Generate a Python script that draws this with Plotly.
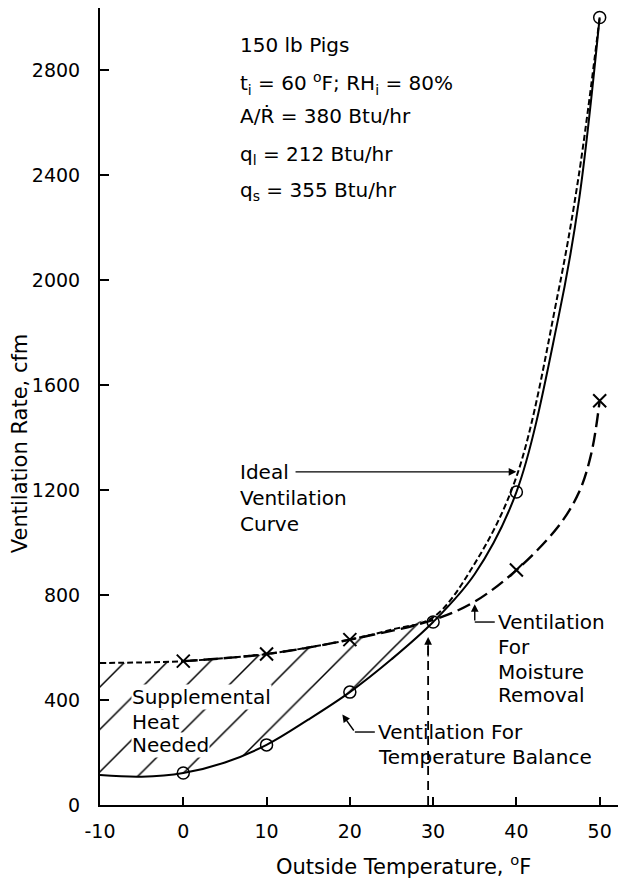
import plotly.graph_objects as go

# ---- data ----
temp_x = [-10, -5, 0, 5, 10, 15, 20, 25, 30, 35, 40, 45, 47.5, 50]
temp_y = [114, 108, 122, 162, 229, 325, 430, 555, 697, 880, 1192, 1850, 2300, 3000]

ideal_x = [-10, -5, 0, 5, 10, 15, 20, 25, 30, 35, 40, 45, 47.5, 50]
ideal_y = [541, 543, 548, 560, 575, 600, 630, 668, 715, 920, 1250, 1950, 2400, 3000]

moist_x = [0, 10, 20, 30, 35, 40, 45, 47.5, 49, 50]
moist_y = [548, 575, 630, 705, 775, 895, 1060, 1190, 1340, 1540]

circle_temps = [0, 10, 20, 30, 40, 50]
cross_temps = [0, 10, 20, 40, 50]

x_ticks = [-10, 0, 10, 20, 30, 40, 50]
y_ticks = [0, 400, 800, 1200, 1600, 2000, 2400, 2800]

balance_temp = 29.4  # temperature where the two requirements meet (dashed marker)

FONT = "DejaVu Sans"
INK = "black"

fig = go.Figure()

# hatched region: between temperature-balance curve and ideal curve up to 30 F
hx_lo = [x for x in temp_x if x <= 30]
hy_lo = [y for x, y in zip(temp_x, temp_y) if x <= 30]
hx_hi = [x for x in ideal_x if x <= 30]
hy_hi = [y for x, y in zip(ideal_x, ideal_y) if x <= 30]
fig.add_trace(go.Scatter(x=hx_lo, y=hy_lo, mode="lines", line=dict(width=0, shape="spline"),
                         showlegend=False, hoverinfo="skip"))
fig.add_trace(go.Scatter(x=hx_hi, y=hy_hi, mode="lines", line=dict(width=0, shape="spline"),
                         fill="tonexty", fillcolor="white",
                         fillpattern=dict(shape="/", size=30, solidity=0.05, fgcolor=INK,
                                          fgopacity=1, bgcolor="white"),
                         showlegend=False, hoverinfo="skip"))

# moisture removal curve (long dash)
fig.add_trace(go.Scatter(x=moist_x, y=moist_y, mode="lines",
                         line=dict(color=INK, width=2.4, dash="14px,6px", shape="spline"),
                         showlegend=False))
# ideal ventilation curve (short dash)
fig.add_trace(go.Scatter(x=ideal_x, y=ideal_y, mode="lines",
                         line=dict(color=INK, width=2, dash="6px,3px", shape="spline"),
                         showlegend=False))
# temperature balance curve (solid)
fig.add_trace(go.Scatter(x=temp_x, y=temp_y, mode="lines",
                         line=dict(color=INK, width=2, shape="spline"),
                         showlegend=False))

# markers
cx = [x for x in temp_x if x in circle_temps]
cy = [y for x, y in zip(temp_x, temp_y) if x in circle_temps]
fig.add_trace(go.Scatter(x=cx, y=cy, mode="markers",
                         marker=dict(symbol="circle-open", size=12, color=INK, line=dict(width=1.5)),
                         showlegend=False))
mx = [x for x in moist_x if x in cross_temps]
my = [y for x, y in zip(moist_x, moist_y) if x in cross_temps]
fig.add_trace(go.Scatter(x=mx, y=my, mode="markers",
                         marker=dict(symbol="x-thin-open", size=13, color=INK, line=dict(width=2, color=INK)),
                         showlegend=False))

# vertical dashed marker line
fig.add_trace(go.Scatter(x=[balance_temp, balance_temp], y=[0, 630], mode="lines",
                         line=dict(color=INK, width=1.8, dash="9px,6px"), showlegend=False))

ann = []
def txt(x, y, s, size=20, xanchor="left", bg=None):
    d = dict(x=x, y=y, xref="x", yref="y", text=s, showarrow=False, xanchor=xanchor,
             yanchor="middle", font=dict(family=FONT, size=size, color=INK))
    if bg:
        d["bgcolor"] = bg
        d["borderpad"] = 0
    ann.append(d)

def arrow(x, y, ax, ay):
    ann.append(dict(x=x, y=y, ax=ax, ay=ay, xref="x", yref="y", axref="x", ayref="y",
                    text="", showarrow=True, arrowhead=2, arrowsize=1.1, arrowwidth=1.4,
                    arrowcolor=INK))

# parameter block
txt(6.56, 2895, "150 lb Pigs", 20)
txt(6.56, 2750, "t<sub>i</sub> = 60 <sup>o</sup>F; RH<sub>i</sub> = 80%", 20)
txt(6.56, 2625, "A/R\u0307 = 380 Btu/hr", 20)
txt(6.56, 2476, "q<sub>l</sub> = 212 Btu/hr", 20)
txt(6.56, 2339, "q<sub>s</sub> = 355 Btu/hr", 20)

# Ideal label
txt(6.56, 1269, "Ideal", 20)
txt(6.56, 1170, "Ventilation", 20)
txt(6.56, 1070, "Curve", 20)
arrow(40.0, 1269, 13.3, 1269)

# Moisture label
txt(37.5, 697, "Ventilation", 20)
txt(37.5, 602, "For", 20)
txt(37.5, 507, "Moisture", 20)
txt(37.5, 419, "Removal", 20)
fig.add_shape(type="line", x0=35.0, y0=697, x1=37.4, y1=697, xref="x", yref="y",
              line=dict(color=INK, width=1.4))
arrow(35.0, 765, 35.0, 697)

# Temperature balance label
txt(23.1, 278, "Ventilation For", 20)
txt(23.1, 183, "Temperature Balance", 20)
fig.add_shape(type="line", x0=20.6, y0=278, x1=23.0, y1=278, xref="x", yref="y",
              line=dict(color=INK, width=1.4))
arrow(19.1, 345, 20.6, 278)

# dashed line arrowhead
arrow(balance_temp, 640, balance_temp, 560)

# Supplemental heat label
txt(-6.3, 411, "Supplemental", 20, bg="white")
txt(-6.3, 316, "Heat", 20, bg="white")
txt(-6.3, 229, "Needed", 20, bg="white")

# axis titles
ann.append(dict(x=-0.154, y=1379, xref="paper", yref="y", text="Ventilation Rate, cfm",
                textangle=-90, showarrow=False, xanchor="center", yanchor="middle",
                font=dict(family=FONT, size=21, color=INK)))
ann.append(dict(x=26.5, y=-0.0753, xref="x", yref="paper", text="Outside Temperature, <sup>o</sup>F",
                showarrow=False, xanchor="center", yanchor="middle",
                font=dict(family=FONT, size=21, color=INK)))

fig.update_layout(
    width=618, height=883,
    margin=dict(l=100, r=0, t=8, b=78),
    paper_bgcolor="white", plot_bgcolor="white",
    showlegend=False,
    annotations=ann,
    font=dict(family=FONT, size=19, color=INK),
    xaxis=dict(range=[-10, 52.2], tickvals=x_ticks, ticktext=[str(v) for v in x_ticks],
               ticks="inside", ticklen=8, tickwidth=2, tickcolor=INK,
               showline=True, linewidth=2, linecolor=INK, showgrid=False, zeroline=False,
               ticklabelstandoff=8, tickfont=dict(family=FONT, size=19, color=INK)),
    yaxis=dict(range=[0, 3036], tickvals=y_ticks, ticktext=[str(v) for v in y_ticks],
               ticks="inside", ticklen=9, tickwidth=2, tickcolor=INK,
               showline=True, linewidth=2, linecolor=INK, showgrid=False, zeroline=False,
               ticklabelstandoff=14, tickfont=dict(family=FONT, size=19, color=INK)),
)

fig.write_html("out.html", config={"displayModeBar": False},
               post_script="document.body.style.margin='0px';")
